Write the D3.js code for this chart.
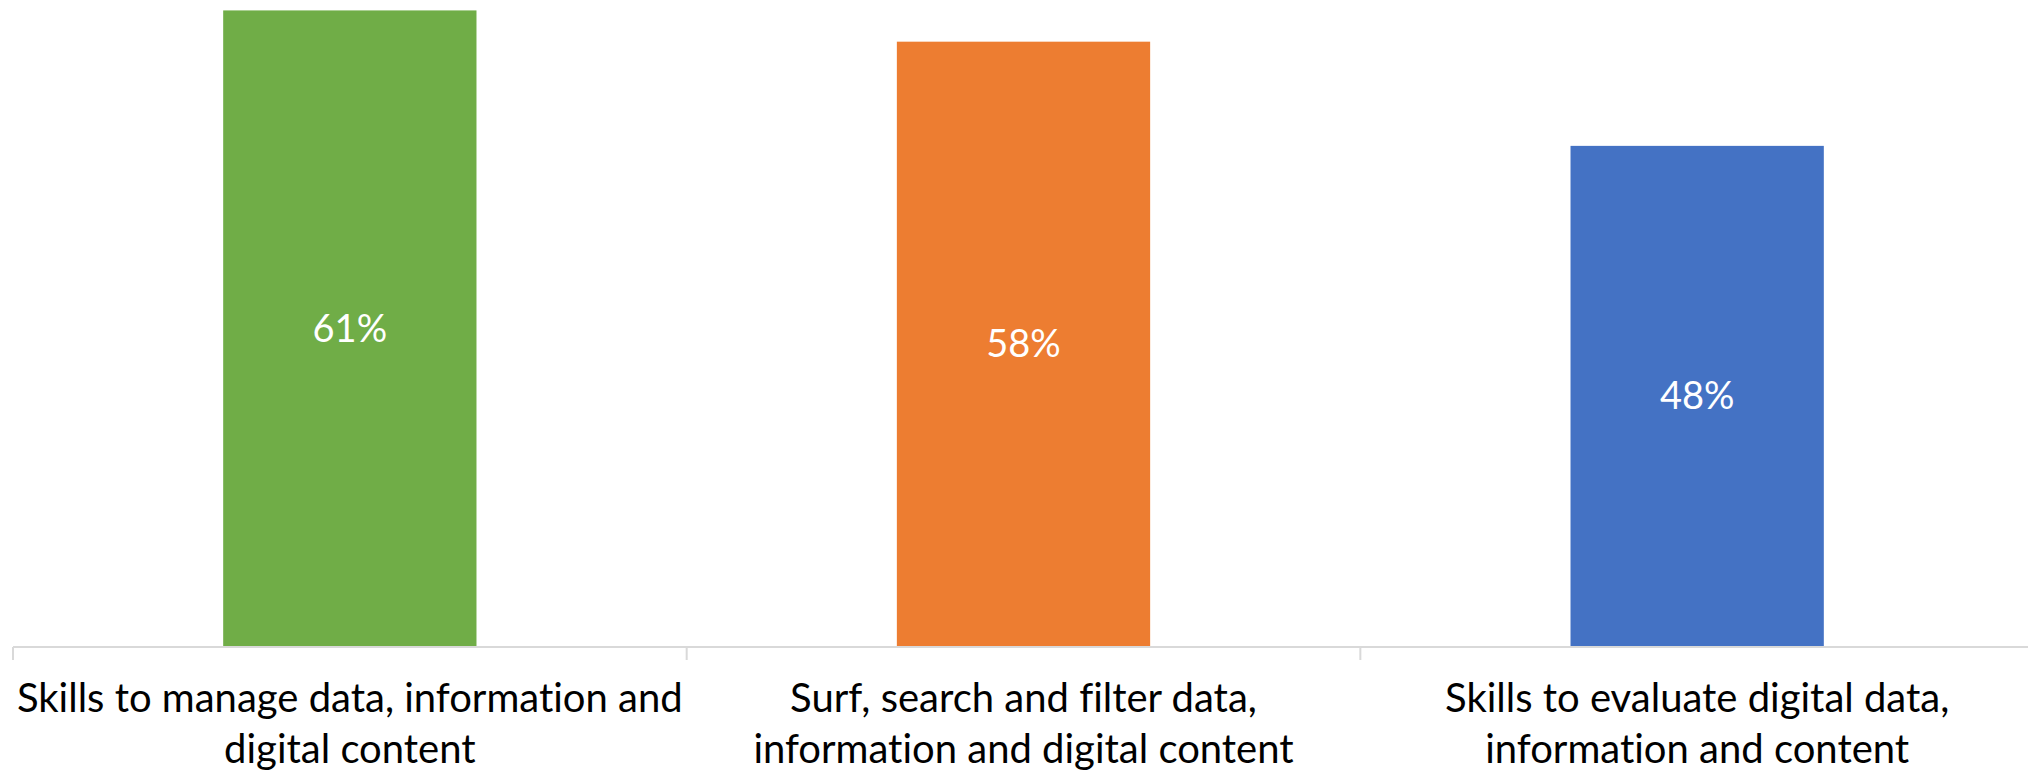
<!DOCTYPE html>
<html>
<head>
<meta charset="utf-8">
<script src="https://cdn.jsdelivr.net/npm/d3@7"></script>
<style>
  html, body { margin: 0; padding: 0; background: #ffffff; }
  svg { display: block; }
  text { font-variant-ligatures: none; font-feature-settings: "liga" 0, "clig" 0; }
</style>
</head>
<body>
<div id="chart"></div>
<script>
// Digital information skills — share of respondents
const categories = [
  "Skills to manage data, information and digital content",
  "Surf, search and filter data, information and digital content",
  "Skills to evaluate digital data, information and content"
];
const categoryLines = [
  ["Skills to manage data, information and", "digital content"],
  ["Surf, search and filter data,", "information and digital content"],
  ["Skills to evaluate digital data,", "information and content"]
];
const values = [0.61, 0.58, 0.48];
const barColors = ["#70AD47", "#ED7D31", "#4472C4"];

const width = 2028, height = 776;
const plot = { left: 13, right: 2034, top: 0, bottom: 646 };
const fontFamily = "Lato, 'Open Sans', 'Liberation Sans', sans-serif";

const svg = d3.select("#chart").append("svg")
  .attr("width", width)
  .attr("height", height);

const pad = 0.624;
const x = d3.scaleBand()
  .domain(categories)
  .range([plot.left, plot.right])
  .paddingInner(pad)
  .paddingOuter(pad / 2);

const y = d3.scaleLinear()
  .domain([0, 0.62])
  .range([plot.bottom, plot.top]);

const fmt = d3.format(".0%");

// Bars
svg.append("g").selectAll("rect")
  .data(values)
  .join("rect")
  .attr("x", (d, i) => x(categories[i]))
  .attr("y", d => y(d))
  .attr("width", x.bandwidth())
  .attr("height", d => y(0) - y(d))
  .attr("fill", (d, i) => barColors[i]);

// Value labels centred inside each bar
svg.append("g").selectAll("text")
  .data(values)
  .join("text")
  .attr("x", (d, i) => x(categories[i]) + x.bandwidth() / 2)
  .attr("y", d => (y(d) + y(0)) / 2)
  .attr("dy", "0.35em")
  .attr("text-anchor", "middle")
  .attr("fill", "#ffffff")
  .style("font-family", fontFamily)
  .style("font-size", "38px")
  .text(d => fmt(d));

// Category axis: baseline with tick separators between bands
const step = x.step();
const boundaries = d3.range(categories.length + 1).map(i => plot.left + i * step);

const axis = svg.append("g");
axis.append("line")
  .attr("x1", plot.left).attr("x2", plot.right)
  .attr("y1", plot.bottom + 1).attr("y2", plot.bottom + 1)
  .attr("stroke", "#d9d9d9")
  .attr("stroke-width", 2);

axis.selectAll("line.tick")
  .data(boundaries)
  .join("line")
  .attr("class", "tick")
  .attr("x1", d => d).attr("x2", d => d)
  .attr("y1", plot.bottom + 1).attr("y2", plot.bottom + 14)
  .attr("stroke", "#d9d9d9")
  .attr("stroke-width", 2);

// Wrapped category labels
const labels = axis.selectAll("text.cat")
  .data(categories)
  .join("text")
  .attr("class", "cat")
  .attr("text-anchor", "middle")
  .attr("fill", "#000000")
  .style("font-family", fontFamily)
  .style("font-size", "40px");

labels.each(function(d, i) {
  const t = d3.select(this);
  categoryLines[i].forEach((line, j) => {
    t.append("tspan")
      .attr("x", x(d) + x.bandwidth() / 2)
      .attr("y", 712 + j * 51)
      .text(line);
  });
});
</script>
</body>
</html>
